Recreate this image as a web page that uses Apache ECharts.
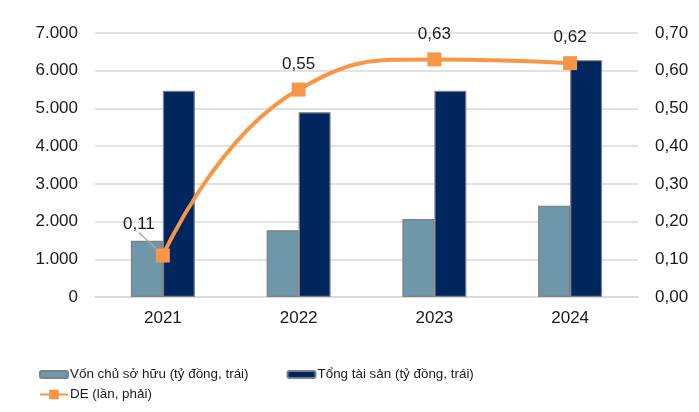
<!DOCTYPE html>
<html><head><meta charset="utf-8">
<script src="https://cdn.jsdelivr.net/npm/echarts@6/dist/echarts.min.js"></script>
<style>html,body{margin:0;padding:0;background:#fff}#c{width:699px;height:412px}</style>
</head><body><div id="c"></div>
<script>
const categories = ['2021', '2022', '2023', '2024'];
const vonChuSoHuu = [1490, 1770, 2070, 2420];
const tongTaiSan = [5470, 4900, 5470, 6280];
const deRatio = [0.11, 0.55, 0.63, 0.62];
const leftTicks = [0, 1000, 2000, 3000, 4000, 5000, 6000, 7000];
const rightTicks = [0, 0.1, 0.2, 0.3, 0.4, 0.5, 0.6, 0.7];
const seriesNames = ['Vốn chủ sở hữu (tỷ đồng, trái)', 'Tổng tài sản (tỷ đồng, trái)', 'DE (lần, phải)'];

const FONT = 'Liberation Sans, Arial, sans-serif';
const fmtLeft = v => v === 0 ? '0' : v.toLocaleString('de-DE');
const fmtRight = v => v.toFixed(2).replace('.', ',');

const deData = deRatio.map((v, i) => i === 0
  ? { value: v, labelLine: { show: true, lineStyle: { color: '#a6a6a6', width: 1.2 } } }
  : { value: v });

const chart = echarts.init(document.getElementById('c'));
chart.setOption({
  animation: false,
  textStyle: { fontFamily: FONT },
  grid: { left: 95, right: 61, top: 33, bottom: 115, containLabel: false },
  legend: [
    { data: [seriesNames[0], seriesNames[1]], left: 34, top: 363, itemWidth: 28, itemHeight: 7, itemGap: 38,
      textStyle: { fontSize: 13.4, color: '#1a1a1a', fontFamily: FONT, padding: [0,0,0,-3] } },
    { data: [seriesNames[2]], left: 34, top: 383, itemWidth: 28, itemHeight: 12, itemGap: 38,
      textStyle: { fontSize: 13.4, color: '#1a1a1a', fontFamily: FONT, padding: [0,0,0,-3] } }
  ],
  xAxis: {
    type: 'category', data: categories,
    axisLine: { lineStyle: { color: '#d9d9d9', width: 1.5 } },
    axisTick: { show: false },
    axisLabel: { fontSize: 17, color: '#1a1a1a', margin: 13, fontFamily: FONT }
  },
  yAxis: [
    { type: 'value', min: leftTicks[0], max: leftTicks[leftTicks.length - 1], interval: 1000,
      axisLine: { show: false }, axisTick: { show: false },
      splitLine: { lineStyle: { color: '#d9d9d9', width: 1.5 } },
      axisLabel: { fontSize: 17, color: '#1a1a1a', margin: 17, formatter: fmtLeft, fontFamily: FONT } },
    { type: 'value', min: rightTicks[0], max: rightTicks[rightTicks.length - 1], interval: 0.1,
      axisLine: { show: false }, axisTick: { show: false }, splitLine: { show: false },
      axisLabel: { fontSize: 17, color: '#1a1a1a', margin: 17, formatter: fmtRight, fontFamily: FONT } }
  ],
  series: [
    { name: seriesNames[0], type: 'bar', data: vonChuSoHuu, barWidth: 32, barGap: '0%',
      itemStyle: { color: '#6e97aa', borderColor: '#808080', borderWidth: 1.2 } },
    { name: seriesNames[1], type: 'bar', data: tongTaiSan, barWidth: 32,
      itemStyle: { color: '#002660', borderColor: '#808080', borderWidth: 1.2 } },
    { name: seriesNames[2], type: 'line', yAxisIndex: 1, data: deData, smooth: 0.5,
      symbol: 'rect', symbolSize: 14, z: 5,
      lineStyle: { color: '#f79646', width: 4 },
      itemStyle: { color: '#f79646' },
      label: { show: true, position: 'top', distance: 10, fontSize: 17, color: '#1a1a1a',
        formatter: p => fmtRight(p.value), fontFamily: FONT },
      labelLayout: p => p.dataIndex === 0 ? { dx: -24, dy: -6 } : {}
    }
  ]
});
</script></body></html>
